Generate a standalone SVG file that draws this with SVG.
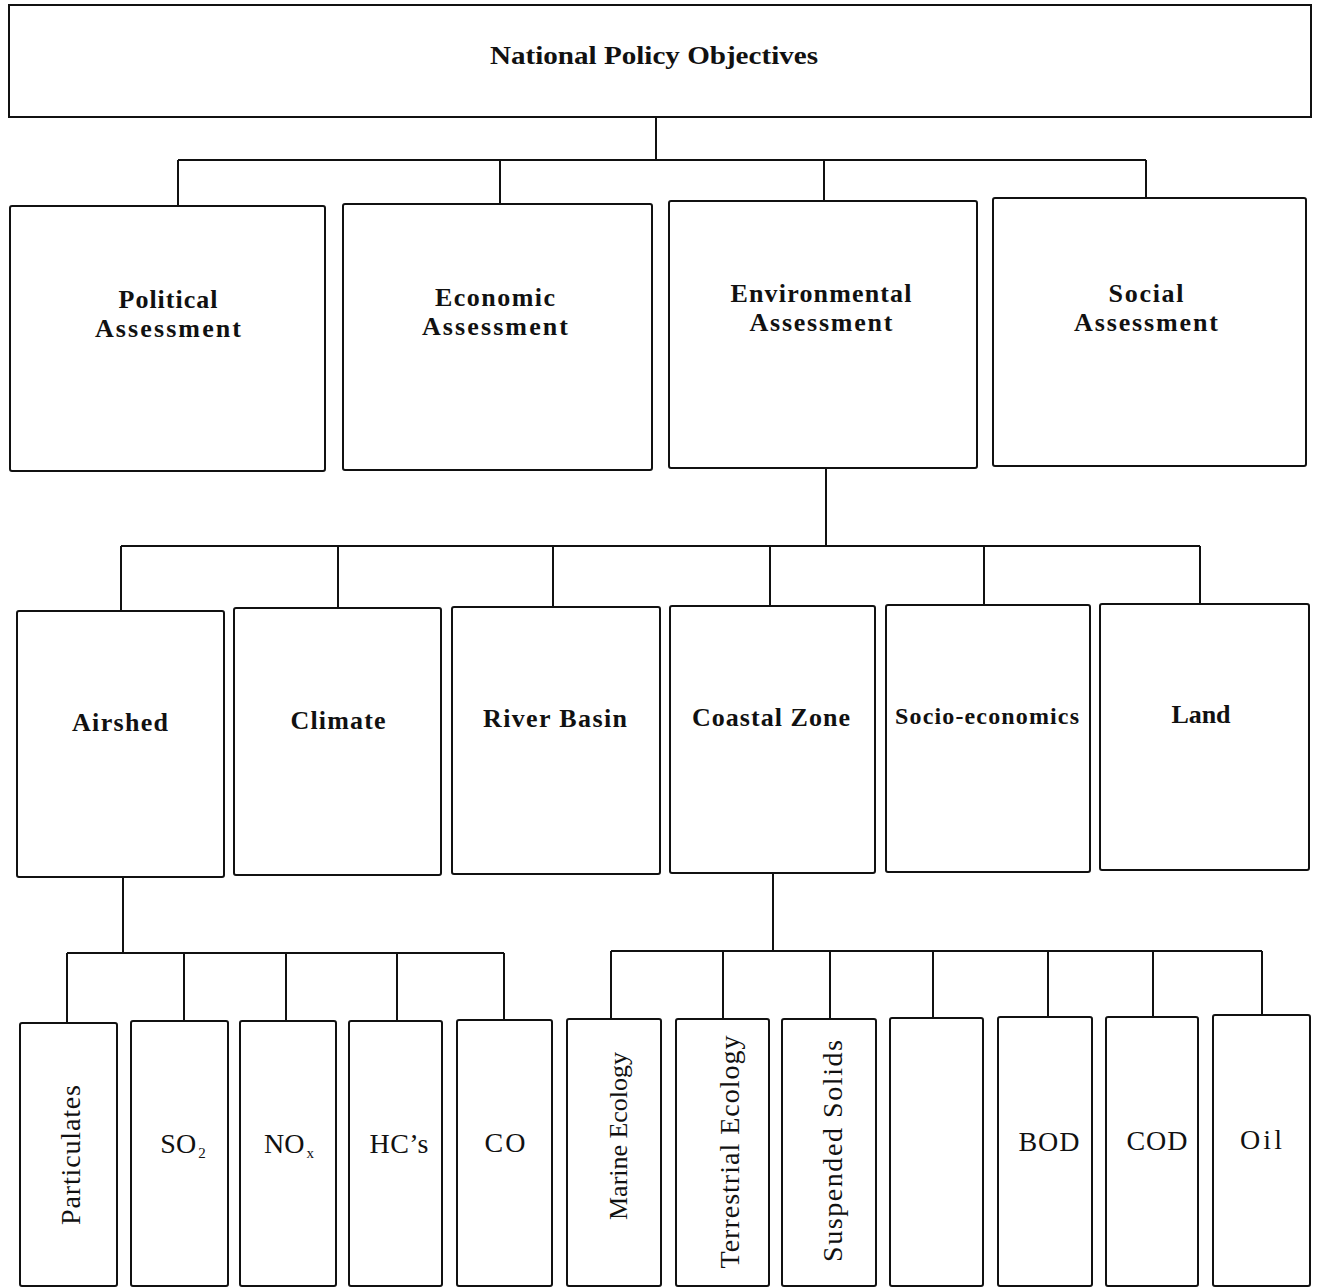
<svg xmlns="http://www.w3.org/2000/svg" width="1319" height="1288" viewBox="0 0 1319 1288">
<style>
.box{fill:#fff;stroke:#111;stroke-width:2}
.ln{fill:none;stroke:#111;stroke-width:2}
text{font-family:"Liberation Serif","DejaVu Serif",serif;fill:#111;text-anchor:middle}
.t1{font-size:26px;font-weight:bold}
.t2{font-size:26px;font-weight:bold}
.t3{font-size:26px;font-weight:bold}
.t4{font-size:28px}
</style>
<rect width="1319" height="1288" fill="#fff"/>
<g id="connectors">
<path class="ln" d="M656 117V160M178 160H1146M178 160V206M500 160V204M824 160V201M1146 160V198"/>
<path class="ln" d="M826 468V546M121 546H1200M121 546V611M338 546V608M553 546V607M770 546V606M984 546V605M1200 546V604"/>
<path class="ln" d="M123 877V953M67 953H504M67 953V1023M184 953V1021M286 953V1021M397 953V1021M504 953V1020"/>
<path class="ln" d="M773 873V951M611 951H1262M611 951V1019M723 951V1019M830 951V1019M933 951V1018M1048 951V1017M1153 951V1017M1262 951V1015"/>
</g>
<g id="national"><rect class="box" x="9" y="5" width="1302" height="112"/><text class="t1" x="654" y="64" textLength="328" lengthAdjust="spacingAndGlyphs">National Policy Objectives</text></g>
<g id="political"><rect class="box" x="10" y="206" width="315" height="265" rx="2"/><text class="t2" x="168" y="308" textLength="99">Political</text><text class="t2" x="168" y="337" textLength="146">Assessment</text></g>
<g id="economic"><rect class="box" x="343" y="204" width="309" height="266" rx="2"/><text class="t2" x="495" y="306" textLength="120">Economic</text><text class="t2" x="495" y="335" textLength="146">Assessment</text></g>
<g id="environmental"><rect class="box" x="669" y="201" width="308" height="267" rx="2"/><text class="t2" x="821" y="302" textLength="181">Environmental</text><text class="t2" x="821" y="331" textLength="143">Assessment</text></g>
<g id="social"><rect class="box" x="993" y="198" width="313" height="268" rx="2"/><text class="t2" x="1146" y="302" textLength="75">Social</text><text class="t2" x="1146" y="331" textLength="144">Assessment</text></g>
<g id="airshed"><rect class="box" x="17" y="611" width="207" height="266" rx="2"/><text class="t3" x="120" y="731" textLength="96">Airshed</text></g>
<g id="climate"><rect class="box" x="234" y="608" width="207" height="267" rx="2"/><text class="t3" x="338" y="729" textLength="95">Climate</text></g>
<g id="river-basin"><rect class="box" x="452" y="607" width="208" height="267" rx="2"/><text class="t3" x="555" y="727" textLength="144">River Basin</text></g>
<g id="coastal-zone"><rect class="box" x="670" y="606" width="205" height="267" rx="2"/><text class="t3" x="771" y="726" textLength="158">Coastal Zone</text></g>
<g id="socio-economics"><rect class="box" x="886" y="605" width="204" height="267" rx="2"/><text class="t3" x="987" y="724" style="font-size:24px" textLength="184">Socio-economics</text></g>
<g id="land"><rect class="box" x="1100" y="604" width="209" height="266" rx="2"/><text class="t3" x="1201" y="723" textLength="59">Land</text></g>
<g id="particulates"><rect class="box" x="20" y="1023" width="97" height="263" rx="2"/><text class="t4" transform="translate(80 1155) rotate(-90)" textLength="140">Particulates</text></g>
<g id="so2"><rect class="box" x="131" y="1021" width="97" height="265" rx="2"/><text class="t4" x="183" y="1153">SO<tspan font-size="15" dx="2" dy="5">2</tspan></text></g>
<g id="nox"><rect class="box" x="240" y="1021" width="96" height="265" rx="2"/><text class="t4" x="289" y="1153">NO<tspan font-size="15" dx="2" dy="5">x</tspan></text></g>
<g id="hcs"><rect class="box" x="349" y="1021" width="93" height="265" rx="2"/><text class="t4" x="399" y="1153" textLength="59">HC’s</text></g>
<g id="co"><rect class="box" x="457" y="1020" width="95" height="266" rx="2"/><text class="t4" x="505" y="1152" textLength="41">CO</text></g>
<g id="marine-ecology"><rect class="box" x="567" y="1019" width="94" height="267" rx="2"/><text class="t4" style="font-size:26px" transform="translate(627 1136) rotate(-90)" textLength="168">Marine Ecology</text></g>
<g id="terrestrial-ecology"><rect class="box" x="676" y="1019" width="93" height="267" rx="2"/><text class="t4" transform="translate(739 1152) rotate(-90)" textLength="233">Terrestrial Ecology</text></g>
<g id="suspended-solids"><rect class="box" x="782" y="1019" width="94" height="267" rx="2"/><text class="t4" transform="translate(842 1151) rotate(-90)" textLength="222">Suspended Solids</text></g>
<g id="blank"><rect class="box" x="890" y="1018" width="93" height="268" rx="2"/></g>
<g id="bod"><rect class="box" x="998" y="1017" width="94" height="269" rx="2"/><text class="t4" x="1049" y="1151" textLength="61">BOD</text></g>
<g id="cod"><rect class="box" x="1106" y="1017" width="92" height="269" rx="2"/><text class="t4" x="1157" y="1150" textLength="61">COD</text></g>
<g id="oil"><rect class="box" x="1213" y="1015" width="97" height="271" rx="2"/><text class="t4" x="1261" y="1149" textLength="42">Oil</text></g>
</svg>
